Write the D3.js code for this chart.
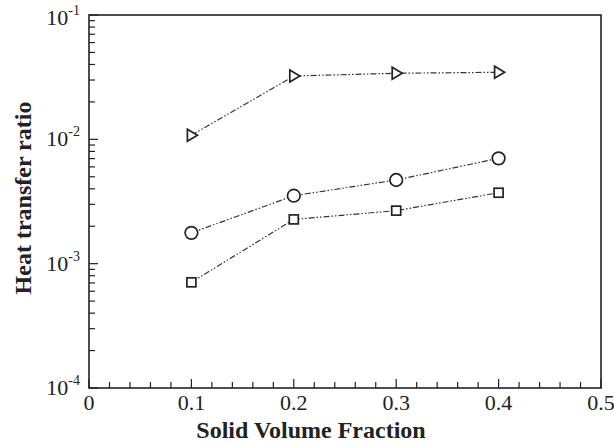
<!DOCTYPE html>
<html><head><meta charset="utf-8">
<script src="https://cdn.jsdelivr.net/npm/d3@7"></script>
<style>body{margin:0;background:#fff}svg text{font-family:"Liberation Serif","Times New Roman",serif;fill:#222}</style>
</head><body><svg id="c" width="614" height="447"></svg>
<script>
const xVals = [0.1, 0.2, 0.3, 0.4];
const triangleSeries = [0.0108, 0.0323, 0.0340, 0.0346];
const circleSeries = [0.00177, 0.00352, 0.00471, 0.00703];
const squareSeries = [0.000708, 0.00227, 0.00267, 0.00372];
const xTicks = [0, 0.1, 0.2, 0.3, 0.4, 0.5];
const yTicks = [1e-4, 1e-3, 1e-2, 1e-1];
const xLabel = "Solid Volume Fraction";
const yLabel = "Heat transfer ratio";

const svg = d3.select("#c");
const L = 89, R = 601, T = 15, B = 388;
const x = d3.scaleLinear().domain([0, 0.5]).range([L, R]);
const y = d3.scaleLog().domain([1e-4, 1e-1]).range([B, T]);
const ink = "#222";

// frame
svg.append("rect").attr("x", L).attr("y", T).attr("width", R - L).attr("height", B - T)
  .attr("fill", "none").attr("stroke", ink).attr("stroke-width", 1.6);

// x ticks (inside)
const xMinor = d3.range(0, 0.5001, 0.02);
xMinor.forEach(v => {
  const major = Math.abs(v * 10 - Math.round(v * 10)) < 1e-6;
  svg.append("line").attr("x1", x(v)).attr("x2", x(v)).attr("y1", B).attr("y2", B - (major ? 9 : 6))
    .attr("stroke", ink).attr("stroke-width", 1.2);
});
xTicks.forEach(v => {
  svg.append("text").attr("x", x(v)).attr("y", 410).attr("text-anchor", "middle")
    .attr("font-size", 22).text(v === 0 ? "0" : d3.format(".1f")(v));
});

// y ticks (inside)
for (let e = -4; e <= -1; e++) {
  for (let m = 1; m <= 9; m++) {
    const v = m * Math.pow(10, e);
    const major = m === 1;
    svg.append("line").attr("x1", L).attr("x2", L + (major ? 9 : 6)).attr("y1", y(v)).attr("y2", y(v))
      .attr("stroke", ink).attr("stroke-width", 1.2);
    if (e === -1) break;
  }
}
yTicks.forEach(v => {
  const ex = Math.round(Math.log10(v));
  const t = svg.append("text").attr("x", 80).attr("y", Math.max(y(v) + 7, 25)).attr("text-anchor", "end").attr("font-size", 22);
  t.append("tspan").text("10");
  t.append("tspan").attr("dy", -10).attr("font-size", 14).text(String(ex));
});

// labels
svg.append("text").attr("x", 311).attr("y", 438).attr("text-anchor", "middle")
  .attr("font-size", 24).style("font-weight", "bold").text(xLabel);
svg.append("text").attr("transform", "translate(31,198) rotate(-90)").attr("text-anchor", "middle")
  .attr("font-size", 24).style("font-weight", "bold").text(yLabel);

// series
const line = d3.line().x(d => x(d[0])).y(d => y(d[1]));
const series = [
  {vals: triangleSeries, shape: "tri"},
  {vals: circleSeries, shape: "circ"},
  {vals: squareSeries, shape: "sq"}
];
series.forEach(s => {
  const pts = xVals.map((xv, i) => [xv, s.vals[i]]);
  svg.append("path").attr("d", line(pts)).attr("fill", "none").attr("stroke", "#333")
    .attr("stroke-width", 1.2).attr("stroke-dasharray", "6,2,1.5,2,1.5,2");
  pts.forEach(p => {
    const cx = x(p[0]), cy = y(p[1]);
    const g = svg.append("g").attr("fill", "#fff").attr("stroke", ink).attr("stroke-width", 1.7);
    if (s.shape === "circ") g.append("circle").attr("cx", cx).attr("cy", cy).attr("r", 6.3);
    else if (s.shape === "sq") g.append("rect").attr("x", cx - 4.5).attr("y", cy - 4.5).attr("width", 9).attr("height", 9);
    else g.append("path").attr("d", `M${cx - 4},${cy - 6}L${cx + 6},${cy}L${cx - 4},${cy + 6}Z`);
  });
});
</script></body></html>
